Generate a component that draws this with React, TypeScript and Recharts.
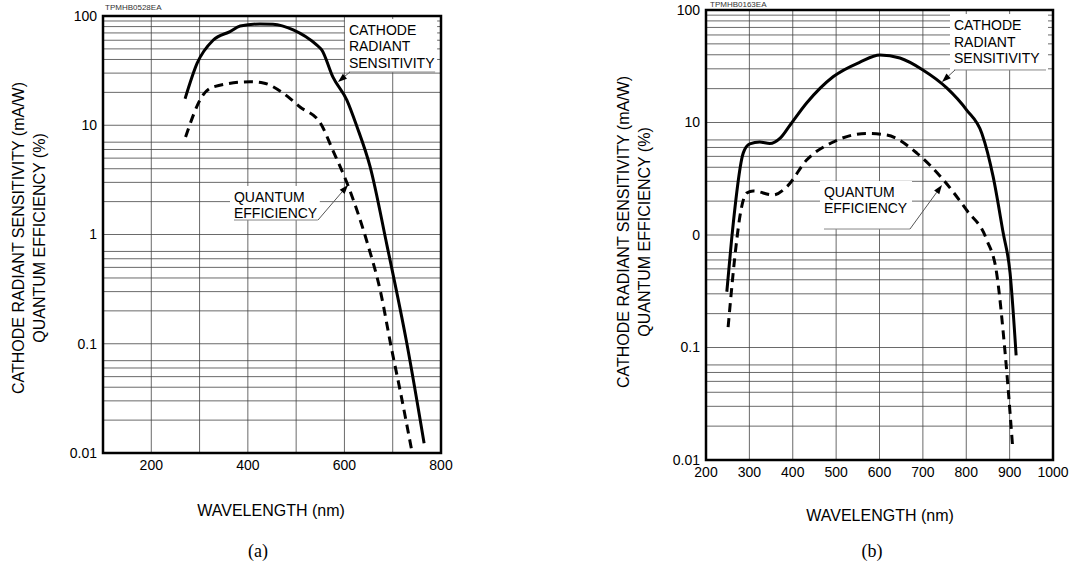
import React from 'react';
import { LineChart, Line, XAxis, YAxis, CartesianGrid, ReferenceArea, ReferenceLine, Label } from 'recharts';

const SANS = '"Liberation Sans", Arial, Helvetica, sans-serif';
const SERIF = '"Liberation Serif", "DejaVu Serif", serif';

// (a) TPMHB0528EA
const cathodeANm = [270, 295, 328, 363, 384, 425, 452, 494, 543, 553, 576, 605, 626, 653, 688, 729, 765];
const cathodeAVal = [17.5, 37, 60, 72, 81, 84.5, 84, 74.5, 54, 49, 27.7, 17, 9.7, 4.2, 0.8, 0.102, 0.0123];
const qeANm = [271, 307, 328, 405, 432, 473, 508, 550, 576, 611, 648, 674, 698, 715, 740];
const qeAVal = [7.8, 18.9, 22.4, 25, 24.4, 19.7, 14.7, 10.5, 5.9, 2.55, 0.82, 0.31, 0.088, 0.038, 0.0102];

// (b) TPMHB0163EA
const cathodeBNm = [248, 259, 286, 301, 324, 347, 371, 394, 432, 493, 555, 601, 647, 700, 755, 801, 836, 862, 885, 901, 915];
const cathodeBVal = [0.313, 0.91, 5.37, 6.45, 6.7, 6.5, 7.25, 9.5, 14.9, 25.5, 34.4, 39.8, 37.4, 29.3, 20.3, 12.9, 8.0, 3.3, 1.05, 0.46, 0.085];
const qeBNm = [251, 271, 278, 294, 309, 355, 386, 432, 493, 570, 616, 686, 747, 801, 847, 870, 889, 907];
const qeBVal = [0.152, 0.91, 1.45, 2.36, 2.46, 2.27, 2.68, 4.64, 6.7, 8.0, 7.75, 5.35, 3.1, 1.66, 0.91, 0.46, 0.095, 0.013];

const yTicks = [0.01, 0.1, 1, 10, 100];
const yTickLabelsA = ['0.01', '0.1', '1', '10', '100'];
const yTickLabelsB = ['0.01', '0.1', '0', '10', '100'];
const xTicksA = [200, 400, 600, 800];
const xTicksB = [200, 300, 400, 500, 600, 700, 800, 900, 1000];
const gridXA = [200, 300, 400, 500, 600, 700];
const gridXB = [300, 400, 500, 600, 700, 800, 900];
const gridY = [
  0.02, 0.03, 0.04, 0.05, 0.06, 0.07, 0.08, 0.09, 0.1,
  0.2, 0.3, 0.4, 0.5, 0.6, 0.7, 0.8, 0.9, 1,
  2, 3, 4, 5, 6, 7, 8, 9, 10,
  20, 30, 40, 50, 60, 70, 80, 90,
];

const cathodeText = ['CATHODE', 'RADIANT', 'SENSITIVITY'];
const qeText = ['QUANTUM', 'EFFICIENCY'];

const pts = (nm: number[], val: number[]) => nm.map((x, i) => ({ nm: x, v: val[i] }));

// annotation boxes (data units) and leader lines: elbow -> arrow tip
const notesA = [
  { lines: cathodeText, x1: 601, x2: 792, yTop: 93.9, yBot: 30.7, from: { x: 611.5, y: 30.7 }, to: { x: 586.7, y: 24.9 } },
  { lines: qeText, x1: 363, x2: 549, yTop: 2.78, yBot: 1.357, from: { x: 545.3, y: 1.357 }, to: { x: 607.4, y: 2.84 } },
];
const notesB = [
  { lines: cathodeText, x1: 762.5, x2: 988.5, yTop: 92.1, yBot: 29.3, from: { x: 774.1, y: 29.3 }, to: { x: 744.1, y: 22.9 } },
  { lines: qeText, x1: 462.8, x2: 674.9, yTop: 3.02, yBot: 1.13, from: { x: 670.3, y: 1.13 }, to: { x: 744.1, y: 2.78 } },
];

const noteBox = (lines: string[]) => (p: any) => (
  <g>
    <rect x={p.x} y={p.y} width={p.width} height={p.height} fill="#fff" />
    {lines.map((t, i) => (
      <text key={t} x={p.x + 4} y={p.y + 16 + i * 16.5} fontSize={14} fontFamily={SANS} fill="#000">
        {t}
      </text>
    ))}
    <line x1={p.x + 4} x2={p.x + p.width - 2} y1={p.y + p.height} y2={p.y + p.height} stroke="#888" strokeWidth={1} />
  </g>
);

const arrowLine = (p: any) => {
  const { x1, y1, x2, y2 } = p;
  const a = Math.atan2(y2 - y1, x2 - x1);
  const L = 9;
  const W = 3.2;
  const bx = x2 - L * Math.cos(a);
  const by = y2 - L * Math.sin(a);
  const head = `${x2},${y2} ${bx - W * Math.sin(a)},${by + W * Math.cos(a)} ${bx + W * Math.sin(a)},${by - W * Math.cos(a)}`;
  return (
    <g>
      <line x1={x1} y1={y1} x2={bx} y2={by} stroke="#555" strokeWidth={1} />
      <polygon points={head} fill="#000" />
    </g>
  );
};

interface PanelProps {
  width: number;
  left: number;
  margin: { top: number; right: number; bottom: number; left: number };
  xDomain: [number, number];
  xTicks: number[];
  gridX: number[];
  yLabels: string[];
  cathode: { nm: number; v: number }[];
  qe: { nm: number; v: number }[];
  notes: typeof notesA;
  code: string;
  codeX: number;
  codeY: number;
  yTitleX: [number, number];
  yTitleY: number;
  xTitle: { x: number; y: number };
  caption: { text: string; x: number; y: number };
}

const Panel = (p: PanelProps) => (
  <div style={{ position: 'absolute', left: p.left, top: 0 }}>
    <LineChart width={p.width} height={566} margin={p.margin}>
      <CartesianGrid horizontalValues={gridY} verticalValues={p.gridX} stroke="#444" strokeWidth={0.8} />
      <XAxis
        type="number"
        dataKey="nm"
        domain={p.xDomain}
        ticks={p.xTicks}
        height={30}
        allowDataOverflow
        axisLine={false}
        tickLine={false}
        tickSize={0}
        tickMargin={7}
        tick={{ fill: '#000', fontSize: 14, fontFamily: SANS }}
      >
        <Label
          content={() => (
            <g>
              <text x={p.xTitle.x} y={p.xTitle.y} textAnchor="middle" fontSize={16} fontFamily={SANS} fill="#000">
                WAVELENGTH (nm)
              </text>
              <text x={p.caption.x} y={p.caption.y} textAnchor="middle" fontSize={18} fontFamily={SERIF} fill="#000">
                {p.caption.text}
              </text>
            </g>
          )}
        />
      </XAxis>
      <YAxis
        type="number"
        scale="log"
        domain={[0.01, 100]}
        ticks={yTicks}
        width={60}
        allowDataOverflow
        axisLine={false}
        tickLine={false}
        tickSize={0}
        tickMargin={6}
        tickFormatter={(v: number) => p.yLabels[yTicks.indexOf(v)]}
        tick={{ fill: '#000', fontSize: 14, fontFamily: SANS }}
      >
        <Label
          content={() => (
            <g>
              <text x={p.codeX} y={p.codeY} fontSize={8} fontFamily={SANS} fill="#333">
                {p.code}
              </text>
              <text
                transform={`translate(${p.yTitleX[0]},${p.yTitleY}) rotate(-90)`}
                textAnchor="middle"
                dominantBaseline="central"
                fontSize={16}
                fontFamily={SANS}
                fill="#000"
              >
                CATHODE RADIANT SENSITIVITY (mA/W)
              </text>
              <text
                transform={`translate(${p.yTitleX[1]},${p.yTitleY}) rotate(-90)`}
                textAnchor="middle"
                dominantBaseline="central"
                fontSize={16}
                fontFamily={SANS}
                fill="#000"
              >
                QUANTUM EFFICIENCY (%)
              </text>
            </g>
          )}
        />
      </YAxis>
      {p.notes.map((n, i) => (
        <ReferenceArea key={'box' + i} x1={n.x1} x2={n.x2} y1={n.yBot} y2={n.yTop} shape={noteBox(n.lines)} />
      ))}
      {p.notes.map((n, i) => (
        <ReferenceLine key={'lead' + i} segment={[n.from, n.to]} shape={arrowLine} />
      ))}
      <ReferenceArea
        x1={p.xDomain[0]}
        x2={p.xDomain[1]}
        y1={0.01}
        y2={100}
        fill="none"
        fillOpacity={0}
        stroke="#000"
        strokeWidth={2.5}
        ifOverflow="visible"
      />
      <Line
        data={p.cathode}
        dataKey="v"
        type="monotone"
        stroke="#000"
        strokeWidth={3}
        dot={false}
        isAnimationActive={false}
      />
      <Line
        data={p.qe}
        dataKey="v"
        type="monotone"
        stroke="#000"
        strokeWidth={3}
        strokeDasharray="9 6"
        dot={false}
        isAnimationActive={false}
      />
    </LineChart>
  </div>
);

export default function App() {
  return (
    <div style={{ position: 'absolute', left: 0, top: 0, width: 1077, height: 566, background: '#fff' }}>
      <Panel
        width={540}
        left={0}
        margin={{ top: 16, right: 99, bottom: 83, left: 43 }}
        xDomain={[100, 800]}
        xTicks={xTicksA}
        gridX={gridXA}
        yLabels={yTickLabelsA}
        cathode={pts(cathodeANm, cathodeAVal)}
        qe={pts(qeANm, qeAVal)}
        notes={notesA}
        code="TPMHB0528EA"
        codeX={105}
        codeY={10}
        yTitleX={[18.5, 39]}
        yTitleY={238}
        xTitle={{ x: 271, y: 516 }}
        caption={{ text: '(a)', x: 258, y: 557 }}
      />
      <Panel
        width={537}
        left={540}
        margin={{ top: 10, right: 24, bottom: 76, left: 106 }}
        xDomain={[200, 1000]}
        xTicks={xTicksB}
        gridX={gridXB}
        yLabels={yTickLabelsB}
        cathode={pts(cathodeBNm, cathodeBVal)}
        qe={pts(qeBNm, qeBVal)}
        notes={notesB}
        code="TPMHB0163EA"
        codeX={170}
        codeY={7}
        yTitleX={[83, 104]}
        yTitleY={232}
        xTitle={{ x: 340, y: 521 }}
        caption={{ text: '(b)', x: 332, y: 557 }}
      />
    </div>
  );
}
